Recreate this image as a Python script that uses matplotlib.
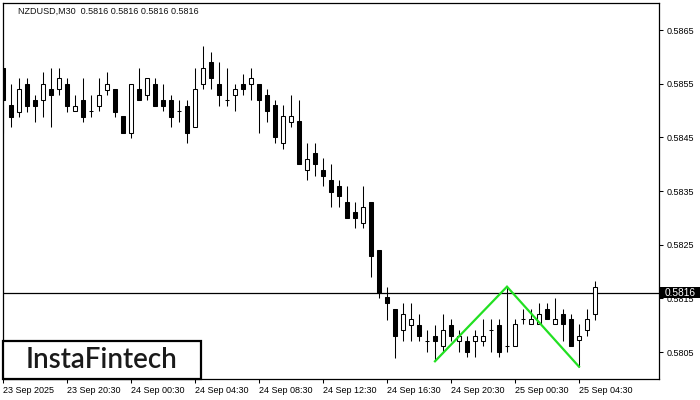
import matplotlib
matplotlib.use('Agg')
import matplotlib.pyplot as plt
from matplotlib.patches import Rectangle

# NZDUSD M30 candles, 23 Sep 16:30 .. 25 Sep 05:30
opens = [0.58579, 0.58511, 0.58498, 0.58550, 0.58520, 0.58519, 0.58540, 0.58540, 0.58550, 0.58499,
         0.58520, 0.58499, 0.58509, 0.58539, 0.58540, 0.58490, 0.58459, 0.58540, 0.58529, 0.58550,
         0.58520, 0.58520, 0.58499, 0.58509, 0.58469, 0.58550, 0.58590, 0.58550, 0.58519, 0.58529,
         0.58550, 0.58550, 0.58550, 0.58529, 0.58510, 0.58439, 0.58479, 0.58481, 0.58390, 0.58421,
         0.58390, 0.58371, 0.58360, 0.58330, 0.58311, 0.58290, 0.58330, 0.58241, 0.58152, 0.58131,
         0.58092, 0.58101, 0.58101, 0.58071, 0.58081, 0.58061, 0.58101, 0.58071, 0.58071, 0.58071,
         0.58071, 0.58091, 0.58101, 0.58062, 0.58062, 0.58111, 0.58102, 0.58102, 0.58131, 0.58102,
         0.58121, 0.58111, 0.58072, 0.58092, 0.58121]
highs = [0.58579, 0.58550, 0.58561, 0.58561, 0.58529, 0.58571, 0.58579, 0.58579, 0.58560, 0.58529,
         0.58560, 0.58529, 0.58560, 0.58571, 0.58540, 0.58490, 0.58550, 0.58579, 0.58560, 0.58560,
         0.58550, 0.58529, 0.58520, 0.58520, 0.58579, 0.58620, 0.58609, 0.58591, 0.58579, 0.58550,
         0.58569, 0.58579, 0.58550, 0.58540, 0.58520, 0.58510, 0.58529, 0.58520, 0.58439, 0.58439,
         0.58412, 0.58401, 0.58371, 0.58360, 0.58330, 0.58360, 0.58330, 0.58241, 0.58172, 0.58131,
         0.58142, 0.58142, 0.58121, 0.58091, 0.58101, 0.58122, 0.58112, 0.58091, 0.58081, 0.58092,
         0.58111, 0.58111, 0.58111, 0.58172, 0.58111, 0.58131, 0.58131, 0.58141, 0.58141, 0.58151,
         0.58131, 0.58121, 0.58102, 0.58131, 0.58182]
lows = [0.58459, 0.58470, 0.58488, 0.58498, 0.58479, 0.58489, 0.58469, 0.58529, 0.58498, 0.58499,
        0.58479, 0.58489, 0.58499, 0.58529, 0.58489, 0.58459, 0.58449, 0.58519, 0.58519, 0.58509,
        0.58499, 0.58469, 0.58479, 0.58439, 0.58469, 0.58540, 0.58540, 0.58509, 0.58509, 0.58499,
        0.58529, 0.58519, 0.58459, 0.58479, 0.58439, 0.58429, 0.58469, 0.58400, 0.58371, 0.58379,
        0.58359, 0.58320, 0.58320, 0.58299, 0.58281, 0.58281, 0.58190, 0.58150, 0.58110, 0.58040,
        0.58070, 0.58070, 0.58070, 0.58050, 0.58033, 0.58050, 0.58071, 0.58050, 0.58041, 0.58041,
        0.58061, 0.58050, 0.58041, 0.58050, 0.58062, 0.58102, 0.58102, 0.58102, 0.58111, 0.58102,
        0.58071, 0.58062, 0.58023, 0.58081, 0.58109]
closes = [0.58520, 0.58488, 0.58540, 0.58509, 0.58509, 0.58550, 0.58529, 0.58560, 0.58509, 0.58509,
          0.58489, 0.58499, 0.58529, 0.58550, 0.58498, 0.58459, 0.58550, 0.58519, 0.58560, 0.58509,
          0.58509, 0.58489, 0.58499, 0.58459, 0.58540, 0.58579, 0.58560, 0.58529, 0.58519, 0.58540,
          0.58540, 0.58560, 0.58519, 0.58499, 0.58450, 0.58490, 0.58490, 0.58400, 0.58410, 0.58400,
          0.58379, 0.58349, 0.58340, 0.58299, 0.58299, 0.58320, 0.58230, 0.58160, 0.58141, 0.58080,
          0.58121, 0.58111, 0.58081, 0.58071, 0.58071, 0.58092, 0.58081, 0.58081, 0.58050, 0.58081,
          0.58081, 0.58091, 0.58050, 0.58062, 0.58102, 0.58111, 0.58111, 0.58121, 0.58111, 0.58111,
          0.58102, 0.58062, 0.58081, 0.58111, 0.58171]

time_labels = ['23 Sep 2025', '23 Sep 20:30', '24 Sep 00:30', '24 Sep 04:30', '24 Sep 08:30',
               '24 Sep 12:30', '24 Sep 16:30', '24 Sep 20:30', '25 Sep 00:30', '25 Sep 04:30']
label_step = 8

price_ticks = [0.5805, 0.5815, 0.5825, 0.5835, 0.5845, 0.5855, 0.5865]
current_price = 0.58161

# double bottom: first low, peak, second low
pattern_idx = [54, 63, 72]
pattern_price = [0.58033, 0.58172, 0.58023]

FONT = ['Liberation Sans', 'DejaVu Sans']


def draw_candles(ax, width=0.62):
    for i in range(len(opens)):
        o, h, l, c = opens[i], highs[i], lows[i], closes[i]
        ax.plot([i, i], [l, h], color='black', lw=0.75, zorder=2, solid_capstyle='butt')
        face = 'white' if c >= o else 'black'
        bottom = min(o, c)
        ax.add_patch(Rectangle((i - width / 2, bottom), width, abs(c - o),
                               facecolor=face, edgecolor='black', lw=0.75, zorder=3))


def main():
    fig = plt.figure(figsize=(7, 4), dpi=100)
    ax = fig.add_axes([2.7 / 700, 1 - 379 / 400, (659.3 - 2.7) / 700, (379 - 2.7) / 400])

    draw_candles(ax)

    ax.axhline(current_price, color='black', lw=0.9, zorder=1)
    ax.plot(pattern_idx, pattern_price, color='#22e022', lw=1.6, zorder=4,
            solid_joinstyle='miter')

    ax.set_xlim(-0.04, 82.04)
    ax.set_ylim(0.5800, 0.58701)

    ax.yaxis.tick_right()
    ax.set_yticks(price_ticks)
    ax.set_yticklabels(['%.4f' % p for p in price_ticks])
    ax.set_xticks([k * label_step for k in range(len(time_labels))])
    ax.set_xticklabels(time_labels, ha='left')
    ax.tick_params(axis='both', direction='out', length=3, width=0.75, labelsize=6.5,
                   colors='black', pad=2)
    for lbl in ax.get_xticklabels() + ax.get_yticklabels():
        lbl.set_family(FONT)
    for s in ax.spines.values():
        s.set_linewidth(0.9)
        s.set_color('black')

    # price tag on the right axis, sits over the 0.5815 label like in the terminal
    tag_h = 0.000195
    ax.add_patch(Rectangle((1.001, current_price - tag_h / 2), 0.062, tag_h,
                           transform=ax.get_yaxis_transform(), facecolor='black',
                           edgecolor='black', lw=0, clip_on=False, zorder=9))
    ax.text(1.032, current_price, '0.5816', transform=ax.get_yaxis_transform(),
            ha='center', va='center', fontsize=7.3, color='white', family=FONT,
            clip_on=False, zorder=10)

    fig.text(18 / 700, 1 - 11 / 400, 'NZDUSD,M30  0.5816 0.5816 0.5816 0.5816',
             fontsize=6.5, color='#101010', family=FONT, va='center', ha='left')

    # logo box
    fig.patches.append(Rectangle((3 / 700, 1 - 378.5 / 400), 198 / 700, 37.5 / 400,
                                 transform=fig.transFigure, facecolor='white',
                                 edgecolor='black', lw=1.6, zorder=5))
    fig.text(102 / 700, 1 - 359.5 / 400, 'InstaFintech', fontsize=20,
             family=['Lato', 'DejaVu Sans'], fontweight='semibold', color='#1a1a1a',
             ha='center', va='center', zorder=6)

    fig.savefig('out.png', dpi=100)


if __name__ == '__main__':
    main()
